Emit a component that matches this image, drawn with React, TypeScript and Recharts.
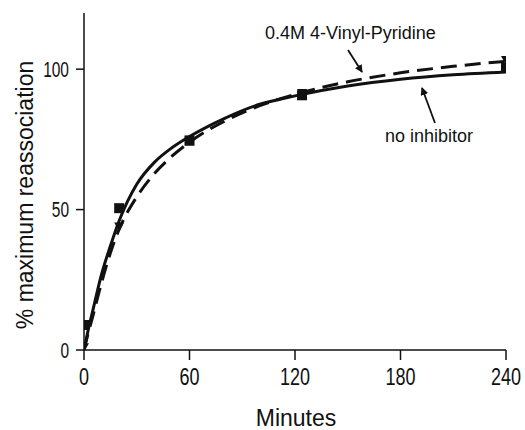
import { ComposedChart, Line, Scatter, XAxis, YAxis } from "recharts";

const fitMinutes = [0, 2, 5, 10, 15, 20, 30, 40, 50, 60, 80, 100, 120, 150, 180, 210, 240];
const noInhibitorFit = [0, 6, 14, 27, 37, 46, 59, 66.8, 72, 76, 82.5, 87.5, 90.5, 94, 96.4, 98, 99];
const vinylFit = [0, 5, 12, 24, 34.5, 43, 54.5, 62.8, 69, 74, 81.5, 87, 91, 95.5, 98.7, 101, 102.8];

// measured points
const squareMinutes = [0, 20, 60, 124, 240];
const squareValues = [8.9, 50.5, 74.5, 90.7, 100.5];
const triangleMinutes = [0, 20, 60, 124, 240];
const triangleValues = [1, 44, 75, 91.5, 103.3];

const xTicks = [0, 60, 120, 180, 240];
const yTicks = [0, 50, 100];

const solidLine = fitMinutes.map((t, i) => ({ t, v: noInhibitorFit[i] }));
const dashedLine = fitMinutes.map((t, i) => ({ t, v: vinylFit[i] }));
const squares = squareMinutes.map((t, i) => ({ t, v: squareValues[i] }));
const triangles = triangleMinutes.map((t, i) => ({ t, v: triangleValues[i] }));

const ink = "#111";
const font = "'Liberation Sans', Arial, sans-serif";

// tick digits in the original are tall and narrow, so stretch them vertically
const XTick = (props: any) => (
  <g transform={`translate(${props.x}, ${props.y}) scale(1, 1.3)`}>
    <text x={0} y={12.9} textAnchor="middle" fontSize={18} fontFamily={font} fill={ink}>
      {props.payload.value}
    </text>
  </g>
);

const YTick = (props: any) => (
  <g transform={`translate(${props.x}, ${props.y}) scale(1, 1.4)`}>
    <text x={0} y={5.4} textAnchor="end" fontSize={15.5} fontFamily={font} fill={ink}>
      {props.payload.value}
    </text>
  </g>
);

const Square = (props: any) => (
  <rect x={props.cx - 5} y={props.cy - 5} width={10} height={10} fill={ink} />
);

const TriangleDown = (props: any) => (
  <polygon
    points={`${props.cx - 5},${props.cy - 4} ${props.cx + 5},${props.cy - 4} ${props.cx},${props.cy + 5}`}
    fill={ink}
  />
);

export default function App() {
  return (
    <div style={{ position: "fixed", left: 0, top: 0, width: 525, height: 430, overflow: "hidden", background: "#fff" }}>
      <ComposedChart
        width={525}
        height={430}
        margin={{ top: 13, right: 19, bottom: 22, left: 24 }}
      >
        <XAxis
          dataKey="t"
          type="number"
          domain={[0, 240]}
          ticks={xTicks}
          height={58}
          tickSize={10}
          tickMargin={8}
          stroke={ink}
          strokeWidth={1.5}
          tick={<XTick />}
          allowDataOverflow
        />
        <YAxis
          dataKey="v"
          type="number"
          domain={[0, 120]}
          ticks={yTicks}
          width={60}
          tickSize={8}
          tickMargin={7}
          stroke={ink}
          strokeWidth={1.5}
          tick={<YTick />}
          allowDataOverflow
        />
        <Line
          data={solidLine}
          dataKey="v"
          type="monotone"
          stroke={ink}
          strokeWidth={3}
          dot={false}
          activeDot={false}
          isAnimationActive={false}
        />
        <Line
          data={dashedLine}
          dataKey="v"
          type="monotone"
          stroke={ink}
          strokeWidth={3}
          strokeDasharray="16 8"
          dot={false}
          activeDot={false}
          isAnimationActive={false}
        />
        <Scatter data={squares} dataKey="v" shape={<Square />} isAnimationActive={false} />
        <Scatter data={triangles} dataKey="v" shape={<TriangleDown />} isAnimationActive={false} />
      </ComposedChart>
      <svg
        width={525}
        height={430}
        style={{ position: "absolute", left: 0, top: 0, pointerEvents: "none" }}
        fontFamily={font}
        fill={ink}
      >
        <defs>
          <marker id="head" markerWidth="8" markerHeight="8" refX="7" refY="4" orient="auto" markerUnits="userSpaceOnUse">
            <path d="M0,0 L8,4 L0,8 Z" fill={ink} />
          </marker>
        </defs>
        <text x={33} y={195} fontSize={23} textAnchor="middle" transform="rotate(-90, 33, 195)">
          % maximum reassociation
        </text>
        <text x={296} y={426} fontSize={23} textAnchor="middle">
          Minutes
        </text>
        <text x={265} y={39} fontSize={18}>
          0.4M 4-Vinyl-Pyridine
        </text>
        <text x={385} y={142} fontSize={18}>
          no inhibitor
        </text>
        <line x1={348} y1={50} x2={362} y2={72} stroke={ink} strokeWidth={1.8} markerEnd="url(#head)" />
        <line x1={435} y1={123} x2={422} y2={88} stroke={ink} strokeWidth={1.8} markerEnd="url(#head)" />
      </svg>
    </div>
  );
}
